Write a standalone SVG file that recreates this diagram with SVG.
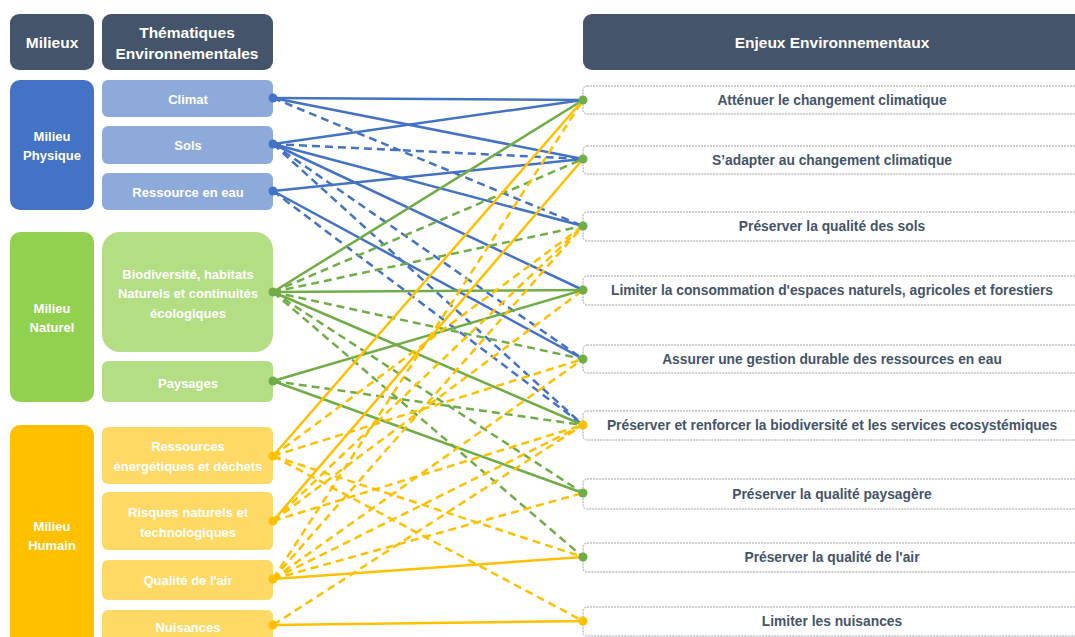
<svg xmlns="http://www.w3.org/2000/svg" width="1075" height="637" viewBox="0 0 1075 637">
<style>
.hd{fill:#44546a}
.h{font-family:"Liberation Sans",Arial,sans-serif;font-weight:bold;font-size:15.5px;fill:#fff;text-anchor:middle}
.t{font-family:"Liberation Sans",Arial,sans-serif;font-weight:bold;font-size:13px;fill:#fff;text-anchor:middle}
.rt{font-family:"Liberation Sans",Arial,sans-serif;font-weight:bold;font-size:13.8px;fill:#44546a;text-anchor:middle}
.rb{fill:#fff;stroke:#9aa0a8;stroke-width:1;stroke-dasharray:2,1}
.b{stroke:#4472c4}
.g{stroke:#70ad47}
.y{stroke:#ffc000}
#conn line{stroke-width:2.5;fill:none}
.d{stroke-dasharray:8,5}
</style>
<rect width="1075" height="637" fill="#fff"/>
<g id="h-milieux"><rect class="hd" x="10" y="14" width="84" height="56" rx="9"/><text class="h" x="52" y="48">Milieux</text></g>
<g id="h-them"><rect class="hd" x="102" y="14" width="171" height="56" rx="9"/><text class="h" x="187" y="38">Thématiques</text><text class="h" x="187" y="59">Environnementales</text></g>
<g id="h-enjeux"><rect class="hd" x="583" y="14" width="500" height="56" rx="9"/><text class="h" x="832" y="48">Enjeux Environnementaux</text></g>

<g id="m-physique"><rect x="10" y="80" width="84" height="130" rx="10" fill="#4472c4"/><text class="t" x="52" y="141">Milieu</text><text class="t" x="52" y="160">Physique</text></g>
<g id="m-naturel"><rect x="10" y="232" width="84" height="170" rx="10" fill="#92d050"/><text class="t" x="52" y="313">Milieu</text><text class="t" x="52" y="332">Naturel</text></g>
<g id="m-humain"><rect x="10" y="425" width="84" height="225" rx="10" fill="#ffc000"/><text class="t" x="52" y="531">Milieu</text><text class="t" x="52" y="550">Humain</text></g>

<g id="climat"><rect x="102" y="80" width="171" height="37" rx="6" fill="#8eaadb"/><text class="t" x="188" y="104">Climat</text></g>
<g id="sols"><rect x="102" y="126" width="171" height="38" rx="6" fill="#8eaadb"/><text class="t" x="188" y="150">Sols</text></g>
<g id="eau"><rect x="102" y="173" width="171" height="37" rx="6" fill="#8eaadb"/><text class="t" x="188" y="197">Ressource en eau</text></g>
<g id="bio"><rect x="102" y="232" width="171" height="120" rx="18" fill="#b3de83"/><text class="t" x="188" y="279">Biodiversité, habitats</text><text class="t" x="188" y="298">Naturels et continuités</text><text class="t" x="188" y="318">écologiques</text></g>
<g id="paysages"><rect x="102" y="361" width="171" height="41" rx="6" fill="#b3de83"/><text class="t" x="188" y="388">Paysages</text></g>
<g id="energie"><rect x="102" y="427" width="171" height="57" rx="6" fill="#ffd966"/><text class="t" x="188" y="451">Ressources</text><text class="t" x="188" y="471">énergétiques et déchets</text></g>
<g id="risques"><rect x="102" y="492" width="171" height="58" rx="6" fill="#ffd966"/><text class="t" x="188" y="517">Risques naturels et</text><text class="t" x="188" y="537">technologiques</text></g>
<g id="air"><rect x="102" y="560" width="171" height="40" rx="6" fill="#ffd966"/><text class="t" x="188" y="585">Qualité de l'air</text></g>
<g id="nuisances"><rect x="102" y="610" width="171" height="40" rx="6" fill="#ffd966"/><text class="t" x="188" y="632">Nuisances</text></g>

<g id="e1"><rect class="rb" x="583" y="86" width="500" height="28" rx="4"/><text class="rt" x="832" y="105">Atténuer le changement climatique</text></g>
<g id="e2"><rect class="rb" x="583" y="146" width="500" height="28" rx="4"/><text class="rt" x="832" y="165">S’adapter au changement climatique</text></g>
<g id="e3"><rect class="rb" x="583" y="212" width="500" height="29" rx="4"/><text class="rt" x="832" y="231">Préserver la qualité des sols</text></g>
<g id="e4"><rect class="rb" x="583" y="276" width="500" height="29" rx="4"/><text class="rt" x="832" y="295">Limiter la consommation d'espaces naturels, agricoles et forestiers</text></g>
<g id="e5"><rect class="rb" x="583" y="345" width="500" height="28" rx="4"/><text class="rt" x="832" y="364">Assurer une gestion durable des ressources en eau</text></g>
<g id="e6"><rect class="rb" x="583" y="411" width="500" height="29" rx="4"/><text class="rt" x="832" y="430">Préserver et renforcer la biodiversité et les services ecosystémiques</text></g>
<g id="e7"><rect class="rb" x="583" y="479" width="500" height="30" rx="4"/><text class="rt" x="832" y="499">Préserver la qualité paysagère</text></g>
<g id="e8"><rect class="rb" x="583" y="543" width="500" height="29" rx="4"/><text class="rt" x="832" y="562">Préserver la qualité de l'air</text></g>
<g id="e9"><rect class="rb" x="583" y="607" width="500" height="29" rx="4"/><text class="rt" x="832" y="626">Limiter les nuisances</text></g>

<g id="conn">
<line class="b" x1="273" y1="98" x2="583" y2="100"/>
<line class="b" x1="273" y1="98" x2="583" y2="159"/>
<line class="b d" x1="273" y1="98" x2="583" y2="226"/>
<line class="b" x1="273" y1="144" x2="583" y2="100"/>
<line class="b d" x1="273" y1="144" x2="583" y2="159"/>
<line class="b" x1="273" y1="144" x2="583" y2="226"/>
<line class="b" x1="273" y1="144" x2="583" y2="290"/>
<line class="b d" x1="273" y1="144" x2="583" y2="359"/>
<line class="b d" x1="273" y1="144" x2="583" y2="425"/>
<line class="b" x1="273" y1="191" x2="583" y2="159"/>
<line class="b" x1="273" y1="191" x2="583" y2="359"/>
<line class="b d" x1="273" y1="191" x2="583" y2="425"/>

<line class="g" x1="273" y1="292" x2="583" y2="100"/>
<line class="g d" x1="273" y1="292" x2="583" y2="159"/>
<line class="g d" x1="273" y1="292" x2="583" y2="226"/>
<line class="g" x1="273" y1="292" x2="583" y2="290"/>
<line class="g d" x1="273" y1="292" x2="583" y2="359"/>
<line class="g" x1="273" y1="292" x2="583" y2="425"/>
<line class="g d" x1="273" y1="292" x2="583" y2="493"/>
<line class="g d" x1="273" y1="292" x2="583" y2="557"/>
<line class="g" x1="273" y1="381" x2="583" y2="290"/>
<line class="g d" x1="273" y1="381" x2="583" y2="425"/>
<line class="g" x1="273" y1="381" x2="583" y2="493"/>

<line class="y" x1="273" y1="456" x2="583" y2="100"/>
<line class="y d" x1="273" y1="456" x2="583" y2="226"/>
<line class="y d" x1="273" y1="456" x2="583" y2="359"/>
<line class="y d" x1="273" y1="456" x2="583" y2="557"/>
<line class="y d" x1="273" y1="456" x2="583" y2="621"/>
<line class="y" x1="273" y1="521" x2="583" y2="159"/>
<line class="y d" x1="273" y1="521" x2="583" y2="226"/>
<line class="y d" x1="273" y1="521" x2="583" y2="290"/>
<line class="y d" x1="273" y1="521" x2="583" y2="425"/>
<line class="y" x1="273" y1="579" x2="583" y2="557"/>
<line class="y d" x1="273" y1="579" x2="583" y2="100"/>
<line class="y d" x1="273" y1="579" x2="583" y2="226"/>
<line class="y d" x1="273" y1="579" x2="583" y2="359"/>
<line class="y d" x1="273" y1="579" x2="583" y2="425"/>
<line class="y d" x1="273" y1="579" x2="583" y2="493"/>
<line class="y" x1="273" y1="625" x2="583" y2="621"/>
<line class="y d" x1="273" y1="625" x2="583" y2="425"/>
</g>
<g id="dots">
<circle cx="273" cy="98" r="4.5" fill="#4472c4"/>
<circle cx="273" cy="144" r="4.5" fill="#4472c4"/>
<circle cx="273" cy="191" r="4.5" fill="#4472c4"/>
<circle cx="273" cy="292" r="4.5" fill="#70ad47"/>
<circle cx="273" cy="381" r="4.5" fill="#70ad47"/>
<circle cx="273" cy="456" r="4.5" fill="#ffc000"/>
<circle cx="273" cy="521" r="4.5" fill="#ffc000"/>
<circle cx="273" cy="579" r="4.5" fill="#ffc000"/>
<circle cx="273" cy="625" r="4.5" fill="#ffc000"/>
<circle cx="583" cy="100" r="4.5" fill="#70ad47"/>
<circle cx="583" cy="159" r="4.5" fill="#70ad47"/>
<circle cx="583" cy="226" r="4.5" fill="#70ad47"/>
<circle cx="583" cy="290" r="4.5" fill="#70ad47"/>
<circle cx="583" cy="359" r="4.5" fill="#70ad47"/>
<circle cx="583" cy="425" r="4.5" fill="#ffc000"/>
<circle cx="583" cy="493" r="4.5" fill="#70ad47"/>
<circle cx="583" cy="557" r="4.5" fill="#70ad47"/>
<circle cx="583" cy="621" r="4.5" fill="#ffc000"/>
</g>
</svg>
